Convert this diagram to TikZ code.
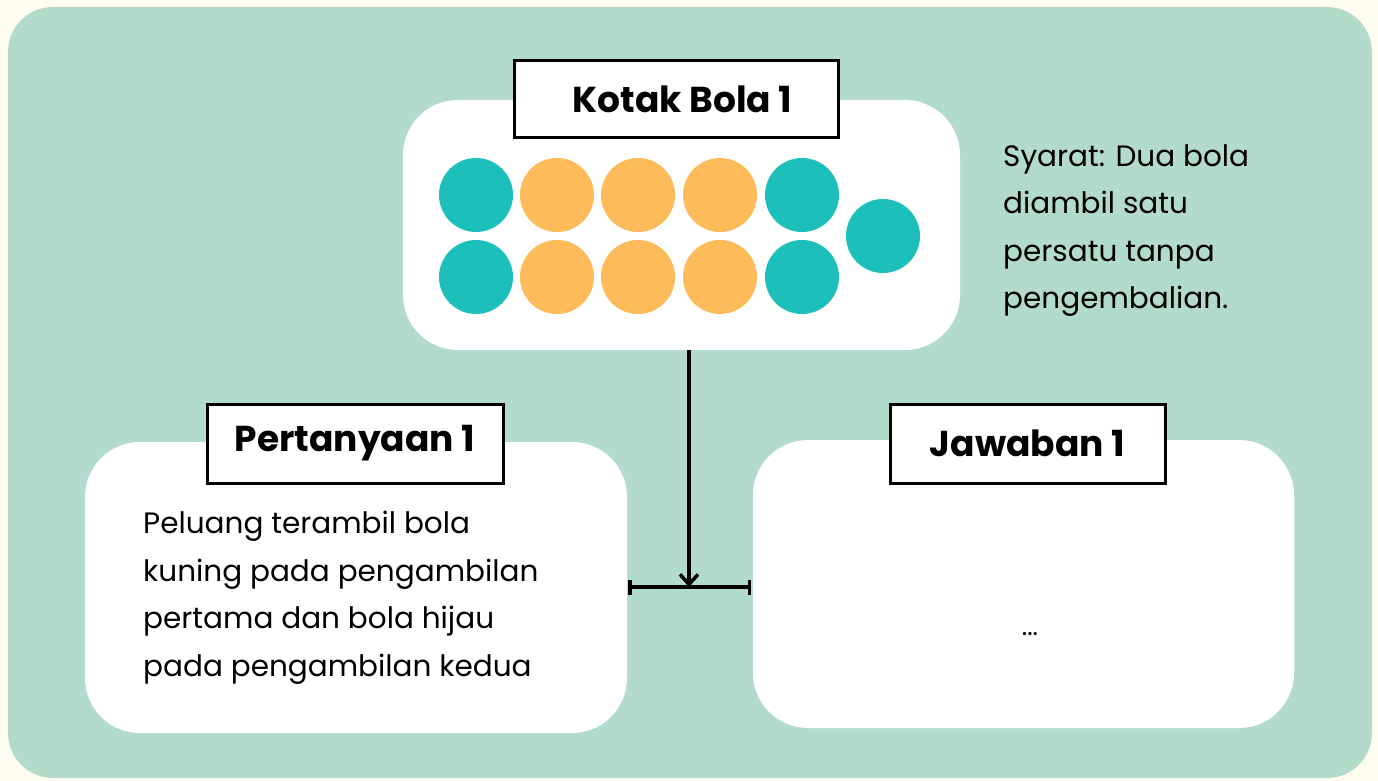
\documentclass[tikz,border=0pt]{standalone}
\usepackage{fontspec}
\setmainfont{Poppins}
\usetikzlibrary{arrows.meta}
\definecolor{bgcream}{HTML}{FFFDF0}
\definecolor{panel}{HTML}{B3DBCC}
\definecolor{tealball}{HTML}{1CBFBA}
\definecolor{orangeball}{HTML}{FDBB5A}
\tikzset{
  x=1pt,y=-1pt,
  whitebox/.style={fill=white,rounded corners=55pt},
  titlebox/.style={draw=black,line width=3pt,fill=white,font=\fontsize{36}{42}\selectfont\bfseries,inner sep=0pt},
  tball/.style={circle,fill=tealball,minimum size=74pt,inner sep=0pt},
  oball/.style={circle,fill=orangeball,minimum size=74pt,inner sep=0pt},
  bodytext/.style={font=\fontsize{29.5}{47.5}\selectfont,align=left,anchor=north west,inner sep=0pt},
  conn/.style={line width=3.5pt},
}
\begin{document}
\begin{tikzpicture}
\useasboundingbox (0,0) rectangle (1378,781);
\fill[bgcream] (0,0) rectangle (1378,781);
\fill[panel,rounded corners=45pt] (8,7) rectangle (1372,778);
% top box
\fill[whitebox] (403,100) rectangle (960,350);
\node[titlebox,minimum width=324pt,minimum height=77pt] (kotak) at (676,99.5) {\hspace*{13pt}Kotak Bola 1};
\node[tball] (b1) at (476,195) {};
\node[oball] (b2) at (557,195) {};
\node[oball] (b3) at (638,195) {};
\node[oball] (b4) at (720,195) {};
\node[tball] (b5) at (802,195) {};
\node[tball] (b6) at (476,277) {};
\node[oball] (b7) at (557,277) {};
\node[oball] (b8) at (638,277) {};
\node[oball] (b9) at (720,277) {};
\node[tball] (b10) at (802,277) {};
\node[tball] (b11) at (883,236) {};
\node[bodytext] (syarat) at (1003,144) {Syarat: Dua bola\\diambil satu\\persatu tanpa\\pengembalian.};
% left box
\fill[whitebox] (85,442) rectangle (627,733);
\node[titlebox,minimum width=296pt,minimum height=79pt] (tanya) at (355,443.5) {Pertanyaan 1};
\node[bodytext] (tanyatext) at (143,511) {Peluang terambil bola\\kuning pada pengambilan\\pertama dan bola hijau\\pada pengambilan kedua};
% right box
\fill[whitebox] (753,440) rectangle (1294,728);
\node[titlebox,minimum width=275pt,minimum height=79pt] (jawab) at (1027.5,443.5) {Jawaban 1};
\node[font=\fontsize{26}{30}\selectfont] (dots) at (1030,634) {...};
% connectors
\coordinate (topbot) at (689,350);
\coordinate (lend) at (628,587);
\coordinate (rend) at (751,587);
\coordinate (mid) at (689,587);
\draw[conn,{Bar[width=15pt]}-{Bar[width=15pt]}] (lend) -- (rend);
\draw[conn,-{Straight Barb[length=10pt,width=18pt]}] (topbot) -- (mid);
\end{tikzpicture}
\end{document}
